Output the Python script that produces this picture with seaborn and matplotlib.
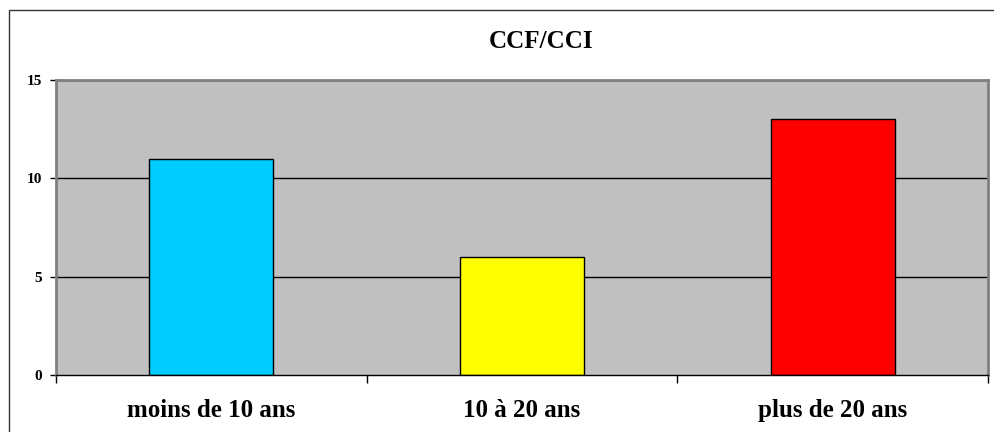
import matplotlib
matplotlib.use('Agg')
import matplotlib.pyplot as plt
import seaborn as sns
import pandas as pd
from matplotlib.patches import Rectangle

# Data
categories = ['moins de 10 ans', '10 à 20 ans', 'plus de 20 ans']
values = [11, 6, 13]
bar_colors = ['#00CCFF', '#FFFF00', '#FF0000']
y_ticks = [0, 5, 10, 15]
title = 'CCF/CCI'

sns.set_theme(style='white')
plt.rcParams['font.family'] = ['Liberation Serif', 'DejaVu Serif']
plt.rcParams['text.color'] = 'black'
plt.rcParams['xtick.color'] = 'black'
plt.rcParams['ytick.color'] = 'black'
plt.rcParams['xtick.labelcolor'] = 'black'
plt.rcParams['ytick.labelcolor'] = 'black'

df = pd.DataFrame({'cat': categories, 'val': values})

fig = plt.figure(figsize=(9.95, 4.32), dpi=100)
ax = fig.add_axes([56 / 995, 1 - 375 / 432, (988 - 56) / 995, (375 - 80) / 432])

sns.barplot(data=df, x='cat', y='val', hue='cat', palette=bar_colors, legend=False,
            width=0.4, edgecolor='black', linewidth=1, saturation=1, ax=ax, zorder=3)

ax.set_facecolor('#C0C0C0')
ax.set_xlim(-0.5, 2.5)
ax.set_ylim(0, 15)

# gridlines
for y in y_ticks[1:]:
    ax.axhline(y, color='black', linewidth=1, zorder=1)

# y axis
ax.set_yticks(y_ticks)
ax.set_yticklabels([str(t) for t in y_ticks], fontsize=11, fontweight='bold', color='black')
ax.tick_params(axis='y', direction='out', length=4, width=1, color='black', pad=6, left=True)

# x axis: ticks at category boundaries, labels centered
ax.set_xticks([-0.5, 0.5, 1.5, 2.5])
ax.set_xticklabels([])
ax.set_xticks([0, 1, 2], minor=True)
ax.set_xticklabels(categories, minor=True, fontsize=18, fontweight='bold', color='black')
ax.tick_params(axis='x', which='major', direction='out', length=6, width=1, color='black', bottom=True)
ax.tick_params(axis='x', which='minor', length=0, pad=17)
ax.set_xlabel('')
ax.set_ylabel('')

for side in ['left', 'top', 'right']:
    ax.spines[side].set_color('#808080')
    ax.spines[side].set_linewidth(2)
ax.spines['bottom'].set_color('black')
ax.spines['bottom'].set_linewidth(1)
ax.spines['bottom'].set_zorder(5)

fig.text(541 / 995, 1 - 42 / 432, title, ha='center', va='center',
         fontsize=18, fontweight='bold', color='black')

# outer chart border
fig.patches.append(Rectangle((9 / 995, -0.1), 1.2, 1 - 10 / 432 + 0.1,
                             transform=fig.transFigure, fill=False,
                             edgecolor='#333333', linewidth=1))

fig.savefig('out.png', dpi=100)
